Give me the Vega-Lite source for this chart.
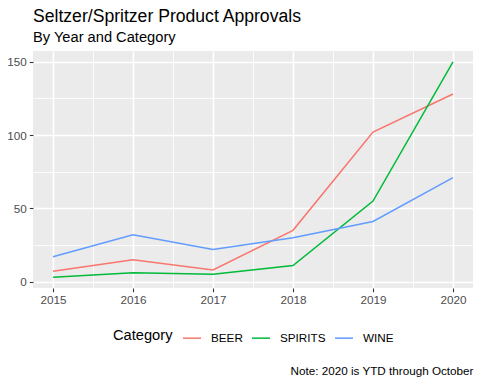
{
  "$schema": "https://vega.github.io/schema/vega-lite/v6.json",
  "width": 440,
  "height": 237,
  "autosize": {"type": "none"},
  "padding": {"left": 33, "top": 51, "right": 7, "bottom": 96},
  "background": "white",
  "title": {
    "text": "Seltzer/Spritzer Product Approvals",
    "subtitle": "By Year and Category",
    "anchor": "start",
    "frame": "group",
    "font": "Liberation Sans",
    "subtitleFont": "Liberation Sans",
    "fontSize": 17.6,
    "subtitleFontSize": 14.67,
    "fontWeight": "normal",
    "color": "black",
    "subtitleColor": "black",
    "offset": 6,
    "subtitlePadding": 5
  },
  "data": {
    "values": [
      {"year": 2015, "category": "BEER", "count": 7},
      {"year": 2016, "category": "BEER", "count": 15},
      {"year": 2017, "category": "BEER", "count": 8},
      {"year": 2018, "category": "BEER", "count": 35},
      {"year": 2019, "category": "BEER", "count": 102},
      {"year": 2020, "category": "BEER", "count": 128},
      {"year": 2015, "category": "SPIRITS", "count": 3},
      {"year": 2016, "category": "SPIRITS", "count": 6},
      {"year": 2017, "category": "SPIRITS", "count": 5},
      {"year": 2018, "category": "SPIRITS", "count": 11},
      {"year": 2019, "category": "SPIRITS", "count": 55},
      {"year": 2020, "category": "SPIRITS", "count": 150},
      {"year": 2015, "category": "WINE", "count": 17},
      {"year": 2016, "category": "WINE", "count": 32},
      {"year": 2017, "category": "WINE", "count": 22},
      {"year": 2018, "category": "WINE", "count": 30},
      {"year": 2019, "category": "WINE", "count": 41},
      {"year": 2020, "category": "WINE", "count": 71}
    ]
  },
  "mark": {"type": "line", "strokeWidth": 1.5},
  "encoding": {
    "x": {
      "field": "year",
      "type": "quantitative",
      "scale": {"domain": [2014.75, 2020.25], "nice": false, "zero": false},
      "axis": {
        "values": [2015, 2015.5, 2016, 2016.5, 2017, 2017.5, 2018, 2018.5, 2019, 2019.5, 2020],
        "labelExpr": "datum.value % 1 === 0 ? format(datum.value, 'd') : ''",
        "title": "Note: 2020 is YTD through October",
        "titleAnchor": "end",
        "titleAlign": "right",
        "titleX": 440,
        "titleY": 86.6,
        "titleBaseline": "alphabetic",
        "titleFont": "Liberation Sans",
        "titleFontSize": 11.7,
        "titleFontWeight": "normal",
        "titleColor": "black",
        "gridWidth": {"condition": {"test": "datum.value % 1 === 0", "value": 1.6}, "value": 0.8},
        "tickOpacity": {"condition": {"test": "datum.value % 1 === 0", "value": 1}, "value": 0}
      }
    },
    "y": {
      "field": "count",
      "type": "quantitative",
      "scale": {"domain": [-4.35, 157.35], "nice": false, "zero": false},
      "axis": {
        "values": [0, 25, 50, 75, 100, 125, 150],
        "labelExpr": "datum.value % 50 === 0 ? datum.label : ''",
        "title": null,
        "gridWidth": {"condition": {"test": "datum.value % 50 === 0", "value": 1.6}, "value": 0.8},
        "tickOpacity": {"condition": {"test": "datum.value % 50 === 0", "value": 1}, "value": 0}
      }
    },
    "color": {
      "field": "category",
      "type": "nominal",
      "scale": {"domain": ["BEER", "SPIRITS", "WINE"], "range": ["#F8766D", "#00BA38", "#619CFF"]},
      "legend": {
        "title": "Category",
        "orient": "none",
        "direction": "horizontal",
        "legendX": 80,
        "legendY": 277,
        "titleOrient": "left",
        "titleFont": "Liberation Sans",
        "titleFontSize": 14.67,
        "titleFontWeight": "normal",
        "titleColor": "black",
        "titlePadding": 9,
        "titleBaseline": "middle",
        "labelFont": "Liberation Sans",
        "labelFontSize": 11.7,
        "labelColor": "black",
        "labelOffset": 9,
        "symbolType": "stroke",
        "symbolSize": 324,
        "symbolStrokeWidth": 1.5,
        "columnPadding": 6
      }
    }
  },
  "config": {
    "font": "Liberation Sans",
    "view": {"fill": "#EBEBEB", "stroke": null},
    "axis": {
      "domain": false,
      "gridColor": "white",
      "gridOpacity": 1,
      "tickColor": "#333333",
      "tickSize": 3.7,
      "tickWidth": 1.1,
      "labelFont": "Liberation Sans",
      "labelFontSize": 11.7,
      "labelColor": "#4D4D4D",
      "labelPadding": 3
    }
  }
}
